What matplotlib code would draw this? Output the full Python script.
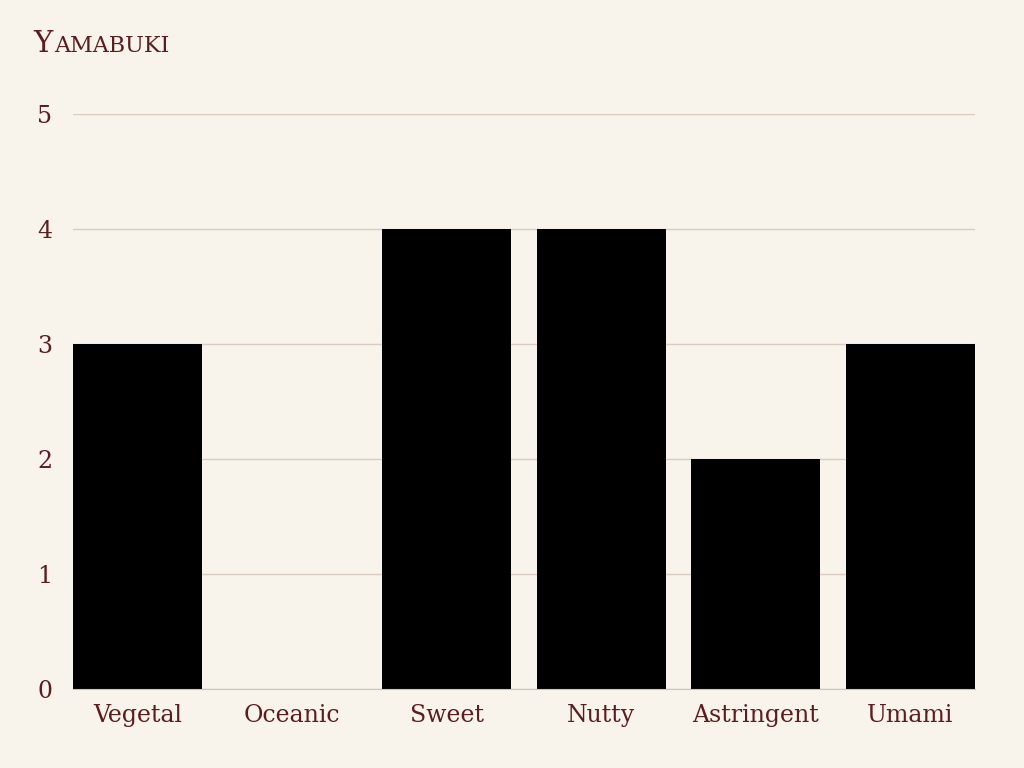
import matplotlib.pyplot as plt

categories = ['Vegetal', 'Oceanic', 'Sweet', 'Nutty', 'Astringent', 'Umami']
values = [3, 0, 4, 4, 2, 3]
yticks = [0, 1, 2, 3, 4, 5]

bg = '#f8f3eb'
ink = '#5b1d1f'
grid = '#dccbc0'

plt.rcParams['font.family'] = ['DejaVu Serif']

fig = plt.figure(figsize=(10.24, 7.68), dpi=100, facecolor=bg)
ax = fig.add_axes([73 / 1024, 79 / 768, 902 / 1024, 575 / 768])
ax.set_facecolor(bg)

x = range(len(categories))
ax.bar(x, values, width=0.834, color='black', zorder=3)

ax.set_xlim(-0.417, len(categories) - 1 + 0.417)
ax.set_ylim(0, 5)
ax.set_yticks(yticks)
ax.set_xticks(list(x))
ax.set_xticklabels(categories)
ax.tick_params(axis='both', length=0, labelsize=17, colors=ink)
ax.tick_params(axis='y', pad=15)
ax.tick_params(axis='x', pad=11)
ax.grid(axis='y', color=grid, linewidth=1, zorder=0)

for s in ['top', 'right', 'left']:
    ax.spines[s].set_visible(False)
ax.spines['bottom'].set_color('#cfc4b8')
ax.spines['bottom'].set_zorder(4)

# small caps title
fig.text(33 / 1024, 1 - 52 / 768, 'Y', fontsize=21, color=ink, va='baseline')
fig.text(54 / 1024, 1 - 52 / 768, 'AMABUKI', fontsize=16, color=ink, va='baseline')

fig.savefig('out.png', dpi=100, facecolor=bg)
